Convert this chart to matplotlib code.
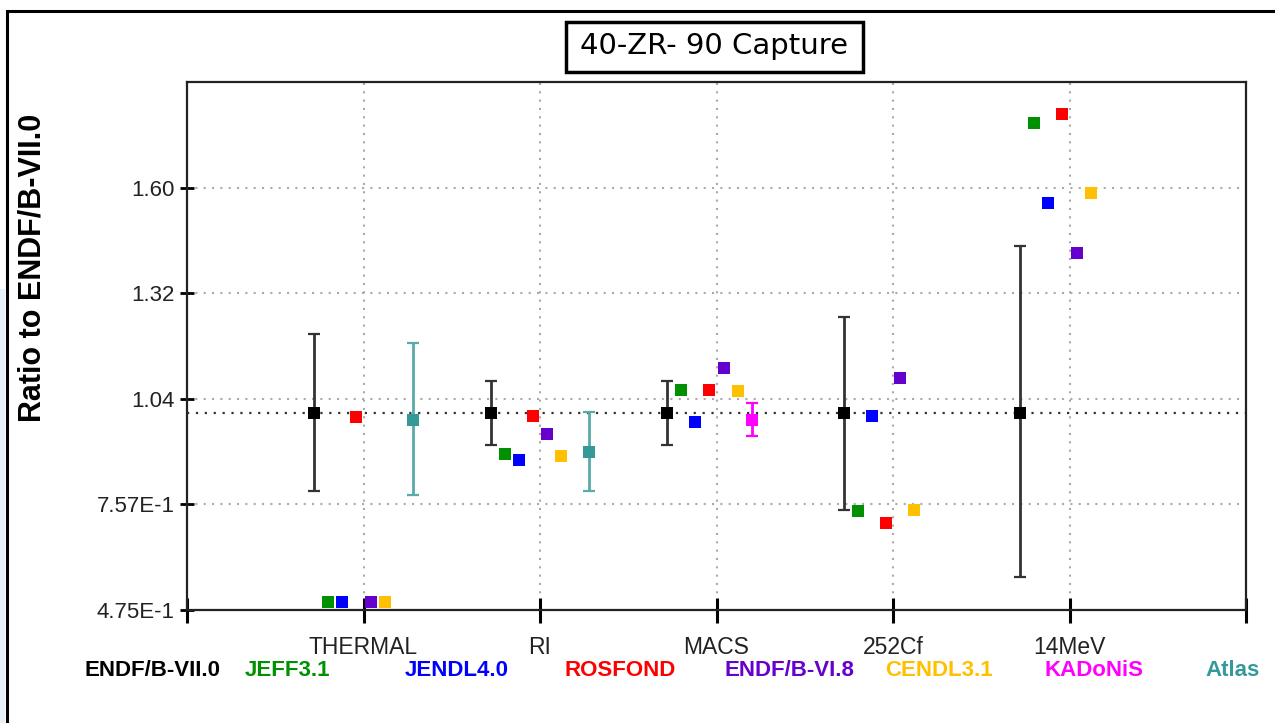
import numpy as np
import matplotlib
matplotlib.use("Agg")
import matplotlib.pyplot as plt
from matplotlib.patches import Rectangle

nan = np.nan

# categories on the x axis
categories = ["THERMAL", "RI", "MACS", "252Cf", "14MeV"]

# libraries (legend order) and their colours
libraries = ["ENDF/B-VII.0", "JEFF3.1", "JENDL4.0", "ROSFOND",
             "ENDF/B-VI.8", "CENDL3.1", "KADoNiS", "Atlas"]
lib_colors = ["#000000", "#009000", "#0000ff", "#ff0000",
              "#6600cc", "#ffc000", "#ff00ff", "#339999"]
bar_colors = ["#333333", None, None, None, None, None, "#ff00ff", "#5aaaaa"]

# ratio to ENDF/B-VII.0, one list per library
endf7 = [1.0, 1.0, 1.0, 1.0, 1.0]
jeff31 = [0.497, 0.891, 1.062, 0.739, 1.773]
jendl40 = [0.497, 0.875, 0.976, 0.993, 1.561]
rosfond = [0.991, 0.993, 1.062, 0.706, 1.799]
endf68 = [0.497, 0.945, 1.120, 1.094, 1.428]
cendl31 = [0.497, 0.885, 1.058, 0.741, 1.588]
kadonis = [nan, nan, 0.982, nan, nan]
atlas = [0.982, 0.896, nan, nan, nan]

# uncertainty bands (lower / upper bounds)
endf7_lo = [0.792, 0.915, 0.915, 0.743, 0.564]
endf7_hi = [1.212, 1.085, 1.087, 1.257, 1.446]
kadonis_lo = [nan, nan, 0.938, nan, nan]
kadonis_hi = [nan, nan, 1.027, nan, nan]
atlas_lo = [0.781, 0.793, nan, nan, nan]
atlas_hi = [1.187, 1.002, nan, nan, nan]

values = [endf7, jeff31, jendl40, rosfond, endf68, cendl31, kadonis, atlas]
bounds = {0: (endf7_lo, endf7_hi), 6: (kadonis_lo, kadonis_hi),
          7: (atlas_lo, atlas_hi)}

y_ticks_txt = ["4.75E-1", "7.57E-1", "1.04", "1.32", "1.60"]
y_min, y_step = 0.475, 0.2817

plt.rcParams['font.family'] = ['Liberation Sans', 'DejaVu Sans']

W, H = 1275, 723
fig = plt.figure(figsize=(W / 100, H / 100), dpi=100)
ax = fig.add_axes([187 / W, 1 - 610 / H, (1246 - 187) / W, (610 - 82) / H])

xpos = np.arange(1, len(categories) + 1)
for i, (name, vals) in enumerate(zip(libraries, values)):
    v = np.array(vals, dtype=float)
    x = xpos + (i - 3.5) * 0.08
    ok = ~np.isnan(v)
    if i in bounds:
        lo = np.array(bounds[i][0])
        hi = np.array(bounds[i][1])
        ax.errorbar(x[ok], v[ok], yerr=[v[ok] - lo[ok], hi[ok] - v[ok]],
                    fmt='none', ecolor=bar_colors[i], elinewidth=2,
                    capsize=4, capthick=1.6, zorder=4)
    ax.plot(x[ok], v[ok], 's', color=lib_colors[i], markersize=9,
            markeredgewidth=0, zorder=5)

ax.axhline(1.0, color="#333333", ls=(0, (1, 3)), lw=1.6, zorder=2)

ax.set_xlim(0, 6)
ax.set_ylim(y_min, y_min + 5 * y_step)
ax.set_xticks(range(7))
ax.set_xticklabels([""] + categories + [""], fontsize=16.5, color="#222222")
ax.set_yticks([y_min + k * y_step for k in range(5)])
ax.set_yticklabels(y_ticks_txt, fontsize=16, color="#222222")
ax.tick_params(axis='x', direction='inout', length=18, width=2.2, pad=10)
ax.tick_params(axis='y', direction='inout', length=10, width=2, pad=4)
ax.grid(True, color="#aaaaaa", ls=(0, (1, 3)), lw=1.5, zorder=1)
ax.set_axisbelow(True)
for s in ax.spines.values():
    s.set_linewidth(1.6)
    s.set_color("#222222")

# y label
fig.text(33 / W, 1 - 268 / H, "Ratio to ENDF/B-VII.0", rotation=90,
         ha='center', va='center', fontsize=22, fontweight='bold')

# title in a box
fig.patches.append(Rectangle((566 / W, 1 - 72 / H), 297 / W, 50 / H,
                             transform=fig.transFigure, fill=False,
                             lw=2.5, edgecolor='black'))
fig.text(714 / W, 1 - 46 / H, "40-ZR- 90 Capture", ha='center', va='center',
         fontsize=21, family=['DejaVu Sans'])

# legend row as coloured labels
for i, name in enumerate(libraries):
    fig.text((85 + 160 * i) / W, 1 - 670 / H, name, ha='left', va='center',
             fontsize=16, fontweight='bold', color=lib_colors[i])

# outer frame
fig.patches.append(Rectangle((7 / W, -0.1), 1.2, 1 - 11 / H + 0.1,
                             transform=fig.transFigure, fill=False,
                             lw=2.2, edgecolor='black'))
fig.patches.append(Rectangle((0, 0), 5 / W, 0.6, transform=fig.transFigure,
                             color="#e6f0fb", lw=0))

fig.savefig("out.png", dpi=100)
